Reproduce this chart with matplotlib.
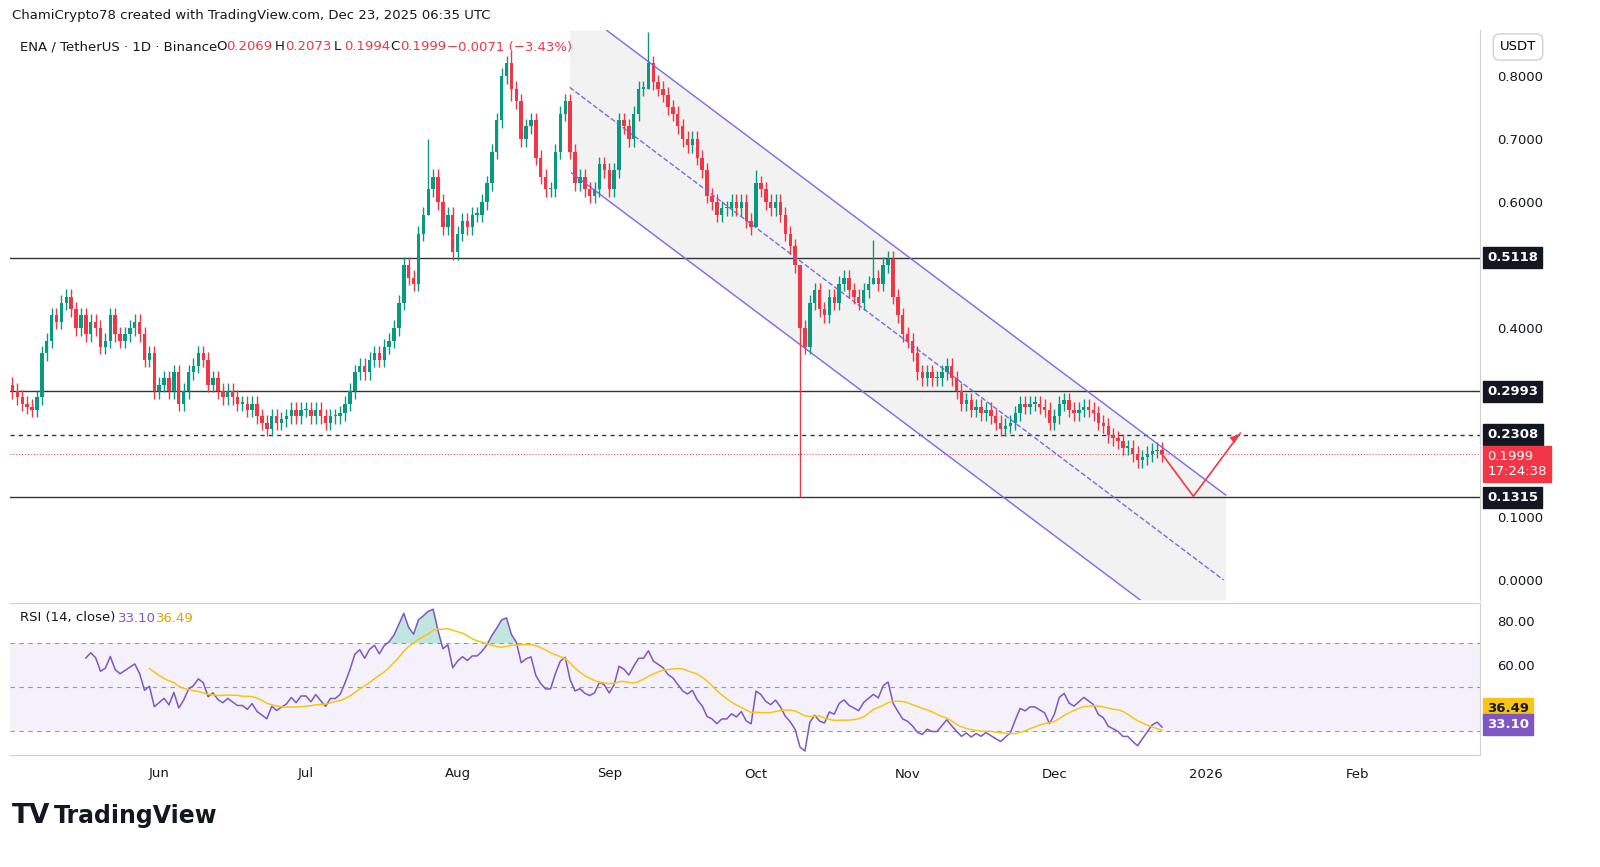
import numpy as np
import matplotlib.pyplot as plt
from matplotlib.patches import Rectangle

# daily closes, day 0 = 2 May 2025
closes = [
    0.30, 0.29, 0.28, 0.275, 0.27, 0.29, 0.36, 0.38, 0.42, 0.41,
    0.44, 0.45, 0.43, 0.40, 0.42, 0.39, 0.41, 0.40, 0.37, 0.38,
    0.42, 0.39, 0.38, 0.39, 0.40, 0.41, 0.39, 0.35, 0.36, 0.30,
    0.31, 0.32, 0.30, 0.33, 0.28, 0.30, 0.33, 0.34, 0.36, 0.35,
    0.31, 0.32, 0.30, 0.29, 0.30, 0.29, 0.28, 0.28, 0.27, 0.28,
    0.26, 0.25, 0.24, 0.26, 0.25, 0.255, 0.26, 0.27, 0.26, 0.27,
    0.27, 0.26, 0.27, 0.26, 0.25, 0.26, 0.26, 0.265, 0.28, 0.30,
    0.33, 0.34, 0.33, 0.35, 0.36, 0.35, 0.37, 0.38, 0.40, 0.44,
    0.50, 0.48, 0.47, 0.55, 0.58, 0.62, 0.64, 0.60, 0.56, 0.58,
    0.52, 0.55, 0.57, 0.56, 0.58, 0.58, 0.60, 0.63, 0.68, 0.73,
    0.80, 0.82, 0.78, 0.76, 0.70, 0.72, 0.73, 0.67, 0.64, 0.62,
    0.62, 0.68, 0.74, 0.76, 0.68, 0.63, 0.64, 0.62, 0.61, 0.62,
    0.66, 0.65, 0.62, 0.65, 0.73, 0.72, 0.70, 0.74, 0.78, 0.78,
    0.82, 0.79, 0.78, 0.77, 0.75, 0.74, 0.72, 0.70, 0.69, 0.70,
    0.67, 0.65, 0.61, 0.60, 0.58, 0.59, 0.59, 0.60, 0.59, 0.60,
    0.57, 0.56, 0.63, 0.62, 0.60, 0.59, 0.60, 0.58, 0.55, 0.53,
    0.50, 0.40, 0.37, 0.44, 0.46, 0.43, 0.42, 0.45, 0.44, 0.47,
    0.48, 0.46, 0.45, 0.44, 0.46, 0.47, 0.48, 0.47, 0.50, 0.51,
    0.45, 0.42, 0.39, 0.38, 0.36, 0.33, 0.32, 0.33, 0.32, 0.32,
    0.33, 0.34, 0.32, 0.30, 0.28, 0.285, 0.27, 0.275, 0.265, 0.27,
    0.26, 0.25, 0.24, 0.245, 0.25, 0.265, 0.28, 0.275, 0.28, 0.28,
    0.275, 0.27, 0.25, 0.26, 0.28, 0.285, 0.27, 0.265, 0.27, 0.275,
    0.27, 0.265, 0.25, 0.245, 0.23, 0.225, 0.22, 0.21, 0.21, 0.20,
    0.19, 0.195, 0.20, 0.205, 0.207, 0.1999,
]
first_open = 0.31
# notable wicks: day -> (high, low)
big_wicks = {102: (0.84, 0.76), 130: (0.87, 0.78), 161: (0.50, 0.1315),
             176: (0.54, 0.47), 85: (0.70, 0.58), 152: (0.65, 0.56)}

levels_solid = [0.5118, 0.2993, 0.1315]
level_dashed = 0.2308
last_price = 0.1999
price_ticks = [0.0, 0.1, 0.4, 0.6, 0.7, 0.8]

month_days = [30, 60, 91, 122, 152, 183, 213, 244, 275]
month_labels = ["Jun", "Jul", "Aug", "Sep", "Oct", "Nov", "Dec", "2026", "Feb"]

# channel (day, price)
ch_upper = [(121.4, 0.873), (248.0, 0.135)]
ch_lower = [(114.3, 0.646), (230.6, -0.032)]
ch_mid = [(113.9, 0.782), (247.6, 0.0)]
arrow_path = [(234.7, 0.203), (241.4, 0.133), (251.0, 0.233)]

GREEN, RED = "#089981", "#F23645"
W, H = 1600, 867
fig = plt.figure(figsize=(16, 8.67), dpi=100)

def px(l, t, r, b):
    return [l / W, 1 - b / H, (r - l) / W, (b - t) / H]

ax = fig.add_axes(px(10, 30, 1480, 600))
ar = fig.add_axes(px(10, 603, 1480, 755), sharex=ax)

n = len(closes)
days = np.arange(n)
opens = [first_open] + closes[:-1]
for i in days:
    o, c = opens[i], closes[i]
    col = GREEN if c >= o else RED
    hi, lo = big_wicks.get(i, (max(o, c) + 0.012, min(o, c) - 0.012))
    ax.vlines(i, lo, hi, color=col, lw=1)
    ax.add_patch(Rectangle((i - 0.35, min(o, c)), 0.7, max(abs(c - o), 0.002),
                           color=col, lw=0))

xlo, xhi = -0.5, 300
ylo, yhi = -0.0317, 0.873

def line_at(seg, x):
    (x0, y0), (x1, y1) = seg
    return y0 + (y1 - y0) * (x - x0) / (x1 - x0)

xs = np.linspace(113.9, 248.0, 300)
ax.fill_between(xs, np.minimum([line_at(ch_upper, x) for x in xs], yhi),
                np.maximum([line_at(ch_lower, x) for x in xs], ylo),
                color="#f2f2f2", zorder=0, lw=0)
for seg, ls in [(ch_upper, "-"), (ch_lower, "-"), (ch_mid, "--")]:
    ax.plot([p[0] for p in seg], [p[1] for p in seg], color="#7b68ee", lw=1, ls=ls, zorder=1)
ax.plot([p[0] for p in arrow_path], [p[1] for p in arrow_path], color=RED, lw=1.2)
ax.annotate("", xy=arrow_path[2], xytext=(arrow_path[2][0] - 1.5, arrow_path[2][1] - 0.01),
            arrowprops=dict(arrowstyle="-|>", color=RED, lw=1.2))

for lv in levels_solid:
    ax.axhline(lv, color="#333", lw=1, zorder=0.5)
ax.axhline(level_dashed, color="#333", lw=1, ls=(0, (3, 3)), zorder=0.5)
ax.axhline(last_price, color=RED, lw=0.7, ls=(0, (1, 2)), zorder=0.5)

ax.set_xlim(xlo, xhi)
ax.set_ylim(ylo, yhi)
ax.yaxis.tick_right()
ax.set_yticks(price_ticks)
ax.set_yticklabels([f"{v:.4f}" for v in price_ticks])
ax.tick_params(axis="y", length=0, labelsize=9.5, pad=12, colors="#131722")
ax.tick_params(axis="x", length=0, labelbottom=False)
for s in ax.spines.values():
    s.set_visible(False)
ax.spines["right"].set_visible(True)
ax.spines["right"].set_color("#d0d0d0")

def tag(a, y, text, fc, tc="white"):
    a.text(1.005, y, text, transform=a.get_yaxis_transform(), ha="left", va="center",
           fontsize=9.5, fontweight="bold", color=tc,
           bbox=dict(boxstyle="square,pad=0.3", fc=fc, ec=fc))

for lv in levels_solid + [level_dashed]:
    tag(ax, lv, f"{lv:.4f}", "#131722")
ax.text(1.005, last_price - 0.016, "0.1999\n17:24:38", transform=ax.get_yaxis_transform(),
        ha="left", va="center", fontsize=9.5, color="white", linespacing=1.2,
        bbox=dict(boxstyle="square,pad=0.3", fc=RED, ec=RED))
fig.text(1518 / W, 1 - 47 / H, "USDT", fontsize=9.5, ha="center", va="center",
         bbox=dict(boxstyle="round,pad=0.5", fc="white", ec="#d0d0d0"))

hy = 1 - 47 / H
fig.text(20 / W, hy, "ENA / TetherUS · 1D · Binance", fontsize=9.5, va="center", color="#131722")
ohlc = [("O", "0.2069"), ("H", "0.2073"), ("L", "0.1994"), ("C", "0.1999")]
xpos = [216, 275, 334, 390]
for (k, v), xp in zip(ohlc, xpos):
    fig.text(xp / W, hy, k, fontsize=9.5, va="center", color="#131722")
    fig.text((xp + 10) / W, hy, v, fontsize=9.5, va="center", color=RED)
fig.text(447 / W, hy, "−0.0071 (−3.43%)", fontsize=9.5, va="center", color=RED)

# RSI from the closes
c = np.array(closes)
d = np.diff(c)
g = np.where(d > 0, d, 0.0)
l = np.where(d < 0, -d, 0.0)
ag, al = g[:14].mean(), l[:14].mean()
rsi = [np.nan] * 15
for i in range(14, len(d)):
    ag = (ag * 13 + g[i]) / 14
    al = (al * 13 + l[i]) / 14
    rsi.append(100 - 100 / (1 + ag / al) if al > 0 else 100)
rsi = np.array(rsi[:n])
rsi_ma = np.array([np.nan] * n)
for i in range(28, n):
    rsi_ma[i] = rsi[i - 13:i + 1].mean()

ar.axhspan(30, 70, color="#7e57c2", alpha=0.08, lw=0)
for lv in (70, 50, 30):
    ar.axhline(lv, color="#9598a1", lw=0.8, ls=(0, (4, 4)))
ar.fill_between(days, 70, rsi, where=rsi > 70, color=GREEN, alpha=0.25, lw=0, interpolate=True)
ar.plot(days, rsi, color="#7e57c2", lw=1.1)
ar.plot(days, rsi_ma, color="#f7c515", lw=1.1)
ar.set_ylim(18.8, 88.4)
ar.yaxis.tick_right()
ar.set_yticks([60, 80])
ar.set_yticklabels(["60.00", "80.00"])
ar.tick_params(axis="y", length=0, labelsize=9.5, pad=12, colors="#131722")
ar.set_xticks(month_days)
ar.set_xticklabels(month_labels)
ar.tick_params(axis="x", length=0, labelsize=9.5, pad=9, colors="#131722")
for s in ar.spines.values():
    s.set_visible(False)
for side in ("right", "top", "bottom"):
    ar.spines[side].set_visible(True)
    ar.spines[side].set_color("#d0d0d0")
tag(ar, 40.2, "36.49", "#f7c515", tc="#131722")
tag(ar, 32.6, "33.10", "#7e57c2")
fig.text(20 / W, 1 - 618 / H, "RSI (14, close)", fontsize=9.5, va="center", color="#131722")
fig.text(118 / W, 1 - 618 / H, "33.10", fontsize=9.5, va="center", color="#7e57c2")
fig.text(156 / W, 1 - 618 / H, "36.49", fontsize=9.5, va="center", color="#d4a800")

fig.text(12 / W, 1 - 16 / H, "ChamiCrypto78 created with TradingView.com, Dec 23, 2025 06:35 UTC",
         fontsize=9.5, va="center", color="#131722")
fig.text(12 / W, 1 - 816 / H, "TV", fontsize=19, fontweight="bold", va="center", color="#131722")
fig.text(54 / W, 1 - 816 / H, "TradingView", fontsize=17, fontweight="bold", va="center", color="#131722")

fig.savefig("out.png", dpi=100)
